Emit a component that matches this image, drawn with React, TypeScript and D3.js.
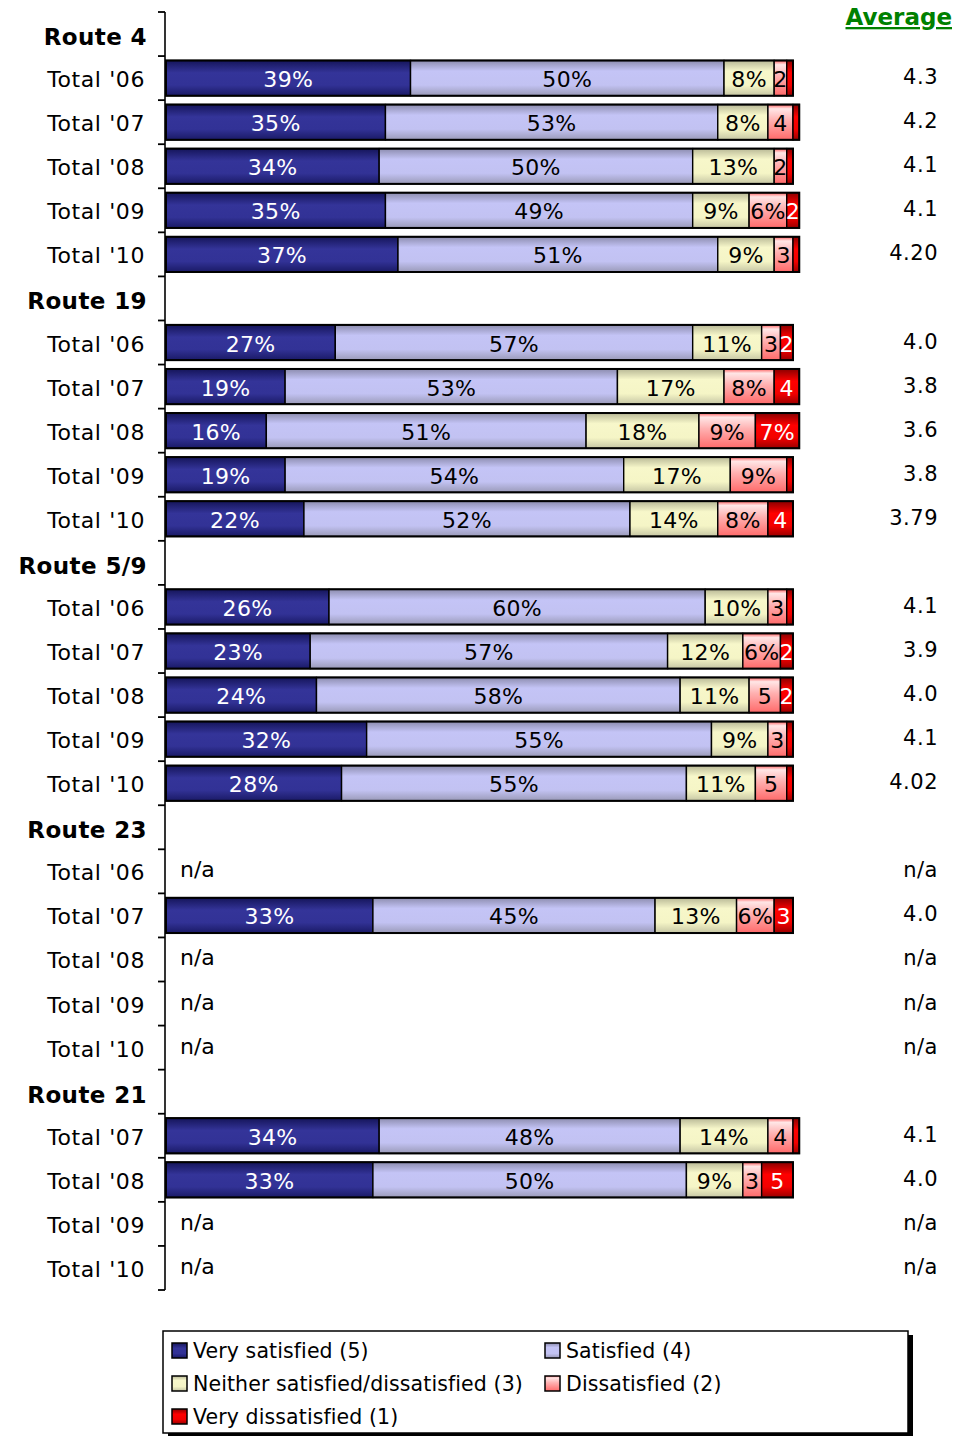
import React from "react";
import * as d3 from "d3";

const categories = [
  "Route 4", "Total '06", "Total '07", "Total '08", "Total '09", "Total '10",
  "Route 19", "Total '06", "Total '07", "Total '08", "Total '09", "Total '10",
  "Route 5/9", "Total '06", "Total '07", "Total '08", "Total '09", "Total '10",
  "Route 23", "Total '06", "Total '07", "Total '08", "Total '09", "Total '10",
  "Route 21", "Total '07", "Total '08", "Total '09", "Total '10",
];
const headers = ["Route 4", "Route 19", "Route 5/9", "Route 23", "Route 21"];

const verySatisfied = [null, 39, 35, 34, 35, 37, null, 27, 19, 16, 19, 22, null, 26, 23, 24, 32, 28, null, null, 33, null, null, null, null, 34, 33, null, null];
const satisfied = [null, 50, 53, 50, 49, 51, null, 57, 53, 51, 54, 52, null, 60, 57, 58, 55, 55, null, null, 45, null, null, null, null, 48, 50, null, null];
const neither = [null, 8, 8, 13, 9, 9, null, 11, 17, 18, 17, 14, null, 10, 12, 11, 9, 11, null, null, 13, null, null, null, null, 14, 9, null, null];
const dissatisfied = [null, 2, 4, 2, 6, 3, null, 3, 8, 9, 9, 8, null, 3, 6, 5, 3, 5, null, null, 6, null, null, null, null, 4, 3, null, null];
const veryDissatisfied = [null, 1, 1, 1, 2, 1, null, 2, 4, 7, 1, 4, null, 1, 2, 2, 1, 1, null, null, 3, null, null, null, null, 1, 5, null, null];
const averages = ["", "4.3", "4.2", "4.1", "4.1", "4.20", "", "4.0", "3.8", "3.6", "3.8", "3.79", "", "4.1", "3.9", "4.0", "4.1", "4.02", "", "n/a", "4.0", "n/a", "n/a", "n/a", "", "4.1", "4.0", "n/a", "n/a"];

const seriesNames = ["Very satisfied (5)", "Satisfied (4)", "Neither satisfied/dissatisfied (3)", "Dissatisfied (2)", "Very dissatisfied (1)"];
const seriesValues = [verySatisfied, satisfied, neither, dissatisfied, veryDissatisfied];

const gradStops = [
  [["0%", "#15155a"], ["35%", "#343499"], ["70%", "#323296"], ["100%", "#1a1a66"]],
  [["0%", "#8c8cae"], ["30%", "#c4c4f6"], ["70%", "#c2c2f2"], ["100%", "#9a9ab8"]],
  [["0%", "#b8b896"], ["30%", "#f7f7ca"], ["70%", "#f5f5c6"], ["100%", "#c6c6a4"]],
  [["0%", "#ff6060"], ["12%", "#ffe6e6"], ["45%", "#ffb0b0"], ["100%", "#ff6a6a"]],
  [["0%", "#8a0000"], ["35%", "#ff0000"], ["70%", "#f20000"], ["100%", "#9a0000"]],
];
const textColors = ["#ffffff", "#000000", "#000000", "#000000", "#ffffff"];

const FONT = "'DejaVu Sans', Verdana, sans-serif";

function fmt(v: number) {
  if (v >= 6) return `${v}%`;
  if (v >= 2) return `${v}`;
  return "";
}

export default function App() {
  const W = 958, H = 1437;
  const idx = categories.map((_, i) => i);
  const y = d3.scaleBand<number>().domain(idx).range([12, 1290]).paddingInner(0.2).paddingOuter(0.1);
  const step = y.step();
  const x = d3.scaleLinear().domain([0, 100]).range([166, 793]);
  const axisX = 165;
  const boundaries = d3.range(categories.length + 1).map((i) => 12 + i * step);

  return (
    <svg width={W} height={H} style={{ position: "absolute", left: 0, top: 0, background: "#fff" }} fontFamily={FONT}>
      <defs>
        {gradStops.map((stops, s) => (
          <linearGradient key={s} id={`g${s}`} x1="0" y1="0" x2="0" y2="1">
            {stops.map(([o, c], k) => <stop key={k} offset={o} stopColor={c} />)}
          </linearGradient>
        ))}
      </defs>

      {/* Axis */}
      <line x1={axisX} x2={axisX} y1={12} y2={1290} stroke="#000" strokeWidth={1.6} />
      {boundaries.map((b, i) => (
        <line key={i} x1={axisX - 7} x2={axisX} y1={b} y2={b} stroke="#000" strokeWidth={1.8} />
      ))}

      {/* Category labels */}
      {categories.map((c, i) => {
        const cy = 12 + (i + 0.5) * step;
        const isH = headers.includes(c);
        return (
          <text key={i} x={isH ? 147 : 145} y={cy + (isH ? 11 : 9)} textAnchor="end" fontSize={isH ? 23 : 22}
            fontWeight={isH ? "bold" : "normal"} letterSpacing={isH ? 0.4 : 0.6} fill="#000">{c}</text>
        );
      })}

      {/* Bars */}
      {idx.map((i) => {
        if (headers.includes(categories[i])) return null;
        const cy = 12 + (i + 0.5) * step;
        if (verySatisfied[i] == null) {
          return (
            <text key={i} x={180} y={cy + 6} fontSize={22} fill="#000">n/a</text>
          );
        }
        let acc = 0;
        const by = y(i)!;
        const bh = y.bandwidth();
        const segs = seriesValues.map((arr, s) => {
          const v = arr[i] as number;
          const x0 = x(acc);
          acc += v;
          const x1 = x(acc);
          return { s, v, x0, x1 };
        });
        return (
          <g key={i}>
            {segs.map((g) => (
              <rect key={g.s} x={g.x0} y={by} width={g.x1 - g.x0} height={bh}
                fill={`url(#g${g.s})`} stroke="#000" strokeWidth={1.4} />
            ))}
            <rect x={segs[0].x0} y={by} width={segs[4].x1 - segs[0].x0} height={bh} fill="none" stroke="#000" strokeWidth={2} />
            {segs.map((g) => (
              <text key={`t${g.s}`} x={(g.x0 + g.x1) / 2} y={by + bh / 2 + 9} textAnchor="middle"
                fontSize={22} fill={textColors[g.s]} letterSpacing={0.3}>{fmt(g.v)}</text>
            ))}
          </g>
        );
      })}

      {/* Averages */}
      <text x={952} y={25} textAnchor="end" fontSize={23} fontWeight="bold" fill="#008000" textDecoration="underline">Average</text>
      {averages.map((a, i) => (
        <text key={i} x={938} y={12 + (i + 0.5) * step + 6} textAnchor="end" fontSize={21} fill="#000" letterSpacing={0.5}>{a}</text>
      ))}

      {/* Legend */}
      <rect x={168} y={1335} width={745} height={101} fill="#000" />
      <rect x={163} y={1331} width={745} height={102} fill="#fff" stroke="#000" strokeWidth={1.5} />
      {seriesNames.map((n, s) => {
        const col = s % 2;
        const row = Math.floor(s / 2);
        const lx = col === 0 ? 172 : 545;
        const ly = 1350 + row * 33;
        return (
          <g key={s}>
            <rect x={lx} y={ly - 7} width={15} height={15} fill={`url(#g${s})`} stroke="#000" strokeWidth={1.5} />
            <text x={lx + 21} y={ly + 8} fontSize={20.5} fill="#000" letterSpacing={0.1}>{n}</text>
          </g>
        );
      })}
    </svg>
  );
}
